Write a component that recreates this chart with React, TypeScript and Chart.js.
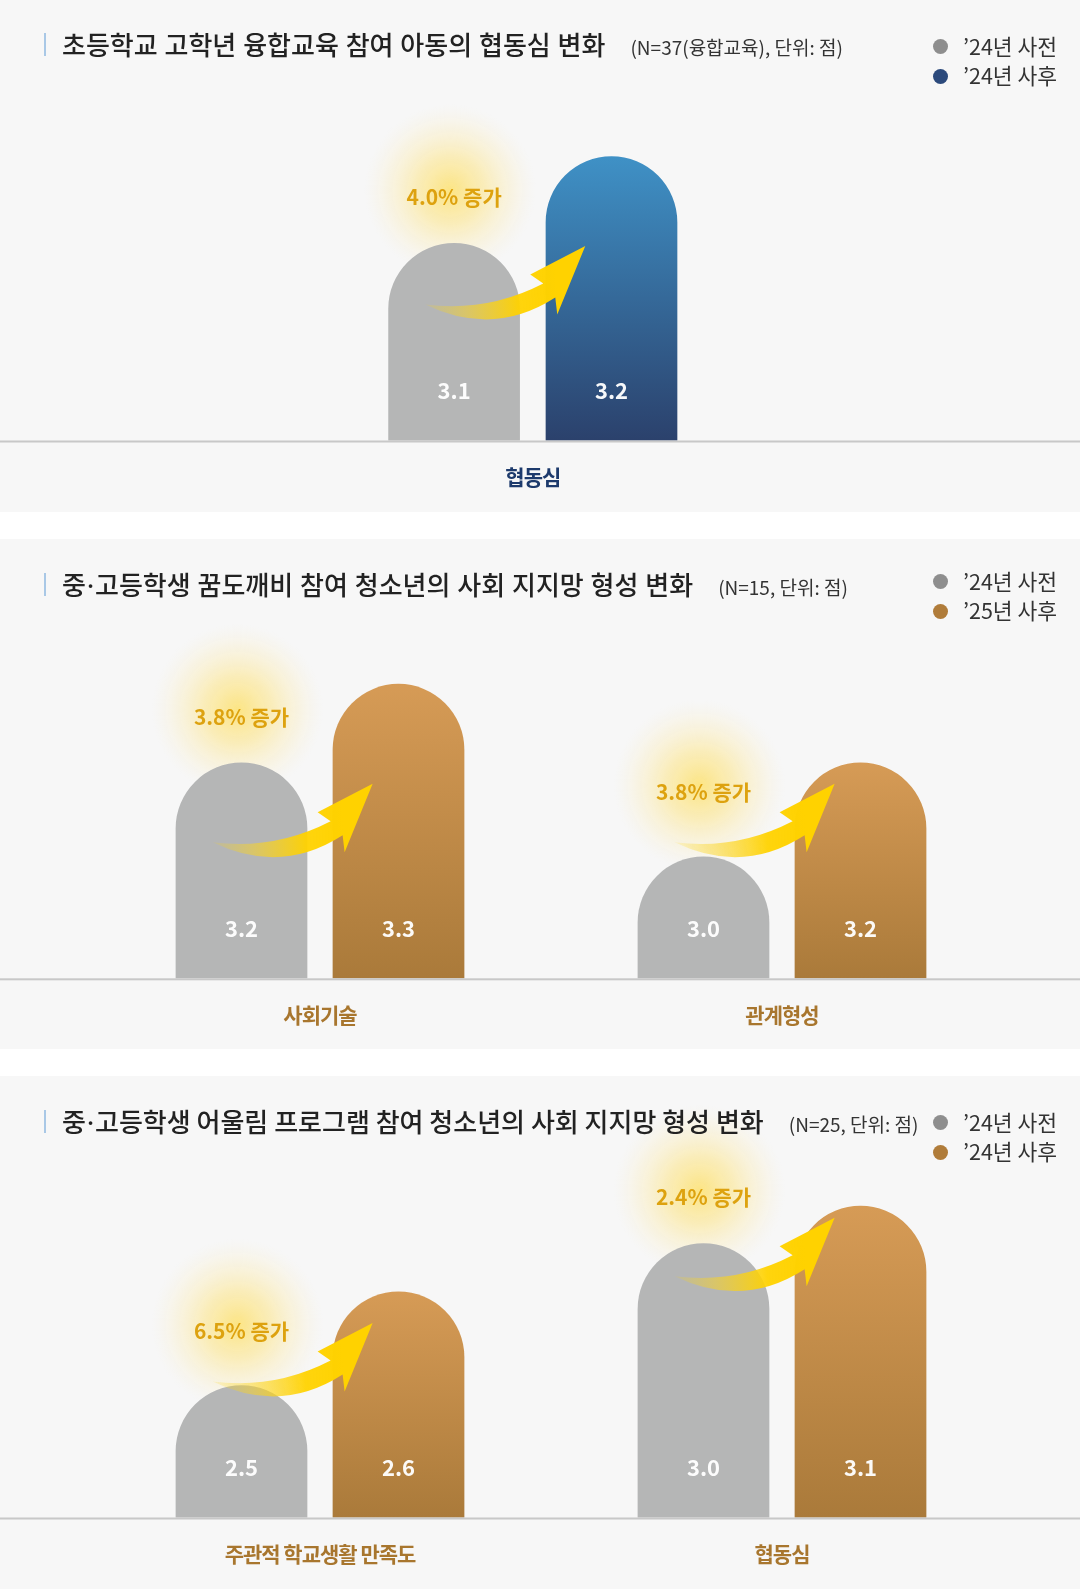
import React, { useEffect, useRef } from 'react';
import { Chart, registerables } from 'chart.js';

Chart.register(...registerables);

// ---------------- data ----------------
const categories1 = ['협동심'];
const pre1 = [3.1];
const post1 = [3.2];
const increase1 = [4.0];
const legend1 = ['’24년 사전', '’24년 사후'];

const categories2 = ['사회기술', '관계형성'];
const pre2 = [3.2, 3.0];
const post2 = [3.3, 3.2];
const increase2 = [3.8, 3.8];
const legend2 = ['’24년 사전', '’25년 사후'];

const categories3 = ['주관적 학교생활 만족도', '협동심'];
const pre3 = [2.5, 3.0];
const post3 = [2.6, 3.1];
const increase3 = [6.5, 2.4];
const legend3 = ['’24년 사전', '’24년 사후'];

// value-axis range per category group (the source infographic uses its own scale per group)
const axisRange1 = [[2.872, 3.265]];
const axisRange2 = [[2.926, 3.357], [2.741, 3.463]];
const axisRange3 = [[2.359, 2.723], [2.265, 3.18]];

// ---------------- styles ----------------
const FONT = '"Noto Sans CJK KR", "Noto Sans", sans-serif';
const PRE_COLOR = '#b5b6b6';
const PRE_DOT = '#8e8e8e';

type Theme = { postTop: string; postBottom: string; postDot: string; labelColor: string };
const NAVY: Theme = { postTop: '#3f91c6', postBottom: '#2b416c', postDot: '#2c4a7c', labelColor: '#1d3a6c' };
const GOLD: Theme = { postTop: '#d69b56', postBottom: '#aa7a3a', postDot: '#b07c3a', labelColor: '#a8762e' };

function geometry(chart: any, i: number) {
  const preEl = chart.getDatasetMeta(2 * i).data[i];
  const postEl = chart.getDatasetMeta(2 * i + 1).data[i];
  const axisY = chart.chartArea.bottom;
  const grayLeft = preEl.x - preEl.width / 2;
  const grayTop = preEl.y;
  const grayH = axisY - grayTop;
  // arrow sits at a fixed level, lifted to the dome of the first bar when that bar is tall
  const tailAbove = grayH > 240 ? grayH - 33 : 136;
  const tailX = grayLeft + 37;
  const tailY = axisY - tailAbove;
  const textY = Math.min(grayTop - 45, tailY - 49);
  return { preEl, postEl, axisY, tailX, tailY, textX: preEl.x, textY };
}

function drawArrow(ctx: CanvasRenderingContext2D, tx: number, ty: number) {
  const g = ctx.createLinearGradient(tx, ty, tx + 132, ty - 10);
  g.addColorStop(0, 'rgba(255,214,10,0.12)');
  g.addColorStop(0.3, 'rgba(252,212,30,0.5)');
  g.addColorStop(0.7, 'rgba(255,210,0,0.95)');
  g.addColorStop(1, '#ffd200');
  ctx.save();
  ctx.beginPath();
  ctx.moveTo(tx, ty);
  ctx.quadraticCurveTo(tx + 68, ty + 33, tx + 130, ty - 7);
  ctx.lineTo(tx + 132, ty + 10);
  ctx.lineTo(tx + 160, ty - 58.5);
  ctx.lineTo(tx + 105, ty - 30);
  ctx.lineTo(tx + 118, ty - 21);
  ctx.quadraticCurveTo(tx + 62, ty + 8, tx, ty);
  ctx.closePath();
  ctx.fillStyle = g;
  ctx.fill();
  ctx.restore();
}

const decorPlugin = {
  id: 'decor',
  beforeDatasetsDraw(chart: any) {
    const ctx: CanvasRenderingContext2D = chart.ctx;
    const n = chart.data.labels.length;
    for (let i = 0; i < n; i++) {
      const g = geometry(chart, i);
      const gx = g.textX - 4;
      const gy = g.textY - 8;
      const r = 86;
      const rg = ctx.createRadialGradient(gx, gy, 0, gx, gy, r);
      rg.addColorStop(0, 'rgba(255,216,55,0.6)');
      rg.addColorStop(0.4, 'rgba(255,222,95,0.4)');
      rg.addColorStop(0.75, 'rgba(255,230,145,0.17)');
      rg.addColorStop(1, 'rgba(255,240,200,0)');
      ctx.save();
      ctx.fillStyle = rg;
      ctx.beginPath();
      ctx.arc(gx, gy, r, 0, Math.PI * 2);
      ctx.fill();
      ctx.restore();
    }
  },
  afterDatasetsDraw(chart: any, _args: any, opts: any) {
    const ctx: CanvasRenderingContext2D = chart.ctx;
    const n = chart.data.labels.length;
    const axisY = chart.chartArea.bottom;
    ctx.save();
    // baseline
    ctx.fillStyle = '#c8c8c8';
    ctx.fillRect(0, axisY, chart.width, 2);
    ctx.textAlign = 'center';
    ctx.textBaseline = 'middle';
    for (let i = 0; i < n; i++) {
      const g = geometry(chart, i);
      drawArrow(ctx, g.tailX, g.tailY);
      // increase text
      ctx.fillStyle = '#dda20f';
      ctx.font = `bold 21px ${FONT}`;
      (ctx as any).letterSpacing = '0px';
      ctx.fillText(`${opts.increase[i].toFixed(1)}% 증가`, g.textX, g.textY - 1);
      // value labels
      ctx.font = `bold 22px ${FONT}`;
      ctx.fillStyle = 'rgba(255,255,255,0.96)';
      for (const d of [2 * i, 2 * i + 1]) {
        const el = chart.getDatasetMeta(d).data[i];
        const v = chart.data.datasets[d].data[i];
        ctx.fillText(Number(v).toFixed(1), el.x, axisY - 50);
      }
      // category label
      ctx.font = `bold 21px ${FONT}`;
      (ctx as any).letterSpacing = '-1px';
      ctx.fillStyle = opts.labelColor;
      const x = chart.scales.x.getPixelForValue(i);
      ctx.fillText(chart.data.labels[i], x, axisY + 37);
      (ctx as any).letterSpacing = '0px';
    }
    ctx.restore();
  },
};

type PanelProps = {
  title: string;
  subtitle: string;
  categories: string[];
  pre: number[];
  post: number[];
  increase: number[];
  legend: string[];
  ranges: number[][];
  theme: Theme;
  height: number;
  axisY: number;
  padLeft: number;
  padRight: number;
  catPct: number;
  barPct: number;
  titleY: number;
  legendY: number;
  wordSpacing: number;
  gapAfter: number;
};

// render the middle dot narrow, as in the source typography
function renderTitle(t: string) {
  const parts = t.split('·');
  const out: React.ReactNode[] = [];
  parts.forEach((part, k) => {
    if (k > 0)
      out.push(
        <span key={'d' + k} style={{ fontFamily: '"Noto Sans", sans-serif', margin: '0 1px' }}>
          ·
        </span>
      );
    out.push(<React.Fragment key={'p' + k}>{part}</React.Fragment>);
  });
  return out;
}

function Panel(p: PanelProps) {
  const ref = useRef<HTMLCanvasElement>(null);
  useEffect(() => {
    const theme = p.theme;
    const radius = { topLeft: 66, topRight: 66, bottomLeft: 0, bottomRight: 0 };
    const datasets: any[] = [];
    const scales: any = { x: { display: false } };
    p.categories.forEach((_, i) => {
      const only = (arr: number[]) => p.categories.map((__, j) => (j === i ? arr[i] : null));
      const axisId = 'y' + i;
      scales[axisId] = { type: 'linear', display: false, min: p.ranges[i][0], max: p.ranges[i][1] };
      const common = {
        yAxisID: axisId,
        borderRadius: radius,
        borderWidth: 0,
        skipNull: true,
        categoryPercentage: p.catPct,
        barPercentage: p.barPct,
      };
      datasets.push({ ...common, label: p.legend[0], data: only(p.pre), backgroundColor: PRE_COLOR });
      datasets.push({
        ...common,
        label: p.legend[1],
        data: only(p.post),
        backgroundColor: (c: any) => {
          const chart = c.chart;
          if (c.type !== 'data' || c.raw == null || !chart.chartArea) return theme.postBottom;
          const s = chart.scales[c.dataset.yAxisID];
          const top = s.getPixelForValue(c.raw);
          const bottom = s.getPixelForValue(s.min);
          const g = chart.ctx.createLinearGradient(0, top, 0, bottom);
          g.addColorStop(0, theme.postTop);
          g.addColorStop(1, theme.postBottom);
          return g;
        },
      });
    });
    const chart = new Chart(ref.current as HTMLCanvasElement, {
      type: 'bar',
      data: { labels: p.categories, datasets },
      options: {
        responsive: false,
        animation: false,
        events: [],
        layout: {
          padding: { top: 100, bottom: p.height - p.axisY, left: p.padLeft, right: p.padRight },
        },
        scales,
        plugins: {
          legend: { display: false },
          tooltip: { enabled: false },
          decor: { increase: p.increase, labelColor: theme.labelColor },
        } as any,
      },
      plugins: [decorPlugin as any],
    });
    return () => chart.destroy();
  }, []);

  return (
    <div
      style={{
        position: 'relative',
        width: 1080,
        height: p.height,
        background: '#f7f7f7',
        marginBottom: p.gapAfter,
        overflow: 'hidden',
      }}
    >
      <canvas
        ref={ref}
        width={1080}
        height={p.height}
        style={{ position: 'absolute', left: 0, top: 0, display: 'block' }}
      />
      <div
        style={{
          position: 'absolute',
          left: 44,
          top: p.titleY - 12,
          width: 2,
          height: 23,
          background: '#a9c8e6',
        }}
      />
      <div
        style={{
          position: 'absolute',
          left: 62,
          top: p.titleY - 14,
          display: 'flex',
          alignItems: 'baseline',
          whiteSpace: 'nowrap',
        }}
      >
        <span
          style={{
            fontFamily: FONT,
            fontWeight: 500,
            fontSize: 26,
            lineHeight: '26px',
            letterSpacing: '0px',
            wordSpacing: `${p.wordSpacing}px`,
            color: '#222',
          }}
        >
          {renderTitle(p.title)}
        </span>
        <span
          style={{
            fontFamily: FONT,
            fontWeight: 400,
            fontSize: 19,
            lineHeight: '19px',
            letterSpacing: '0px',
            marginLeft: 25,
            color: '#333',
          }}
        >
          {p.subtitle}
        </span>
      </div>
      {p.legend.map((t, k) => {
        const cy = p.legendY + k * 29.5;
        return (
          <React.Fragment key={k}>
            <div
              style={{
                position: 'absolute',
                left: 932.5,
                top: cy - 7.5,
                width: 15,
                height: 15,
                borderRadius: '50%',
                background: k === 0 ? PRE_DOT : p.theme.postDot,
              }}
            />
            <div
              style={{
                position: 'absolute',
                left: 963,
                top: cy - 12,
                fontFamily: FONT,
                fontSize: 21.5,
                lineHeight: '22px',
                color: '#333',
                whiteSpace: 'nowrap',
              }}
            >
              {t}
            </div>
          </React.Fragment>
        );
      })}
    </div>
  );
}

export default function App() {
  return (
    <div style={{ width: 1080, background: '#ffffff' }}>
      <style>{`body{margin:0;background:#ffffff;}`}</style>
      <Panel
        title="초등학교 고학년 융합교육 참여 아동의 협동심 변화"
        subtitle="(N=37(융합교육), 단위: 점)"
        categories={categories1}
        pre={pre1}
        post={post1}
        increase={increase1}
        legend={legend1}
        ranges={axisRange1}
        theme={NAVY}
        height={512}
        axisY={440.5}
        padLeft={0}
        padRight={14.4}
        catPct={0.2954}
        barPct={0.8367}
        titleY={45}
        legendY={46.5}
        wordSpacing={1}
        gapAfter={27}
      />
      <Panel
        title="중·고등학생 꿈도깨비 참여 청소년의 사회 지지망 형성 변화"
        subtitle="(N=15, 단위: 점)"
        categories={categories2}
        pre={pre2}
        post={post2}
        increase={increase2}
        legend={legend2}
        ranges={axisRange2}
        theme={GOLD}
        height={510}
        axisY={439.3}
        padLeft={89}
        padRight={67}
        catPct={0.6797}
        barPct={0.839}
        titleY={46}
        legendY={42.5}
        wordSpacing={1}
        gapAfter={27}
      />
      <Panel
        title="중·고등학생 어울림 프로그램 참여 청소년의 사회 지지망 형성 변화"
        subtitle="(N=25, 단위: 점)"
        categories={categories3}
        pre={pre3}
        post={post3}
        increase={increase3}
        legend={legend3}
        ranges={axisRange3}
        theme={GOLD}
        height={513}
        axisY={441.5}
        padLeft={89}
        padRight={67}
        catPct={0.6797}
        barPct={0.839}
        titleY={46}
        legendY={46.5}
        wordSpacing={0}
        gapAfter={0}
      />
    </div>
  );
}
